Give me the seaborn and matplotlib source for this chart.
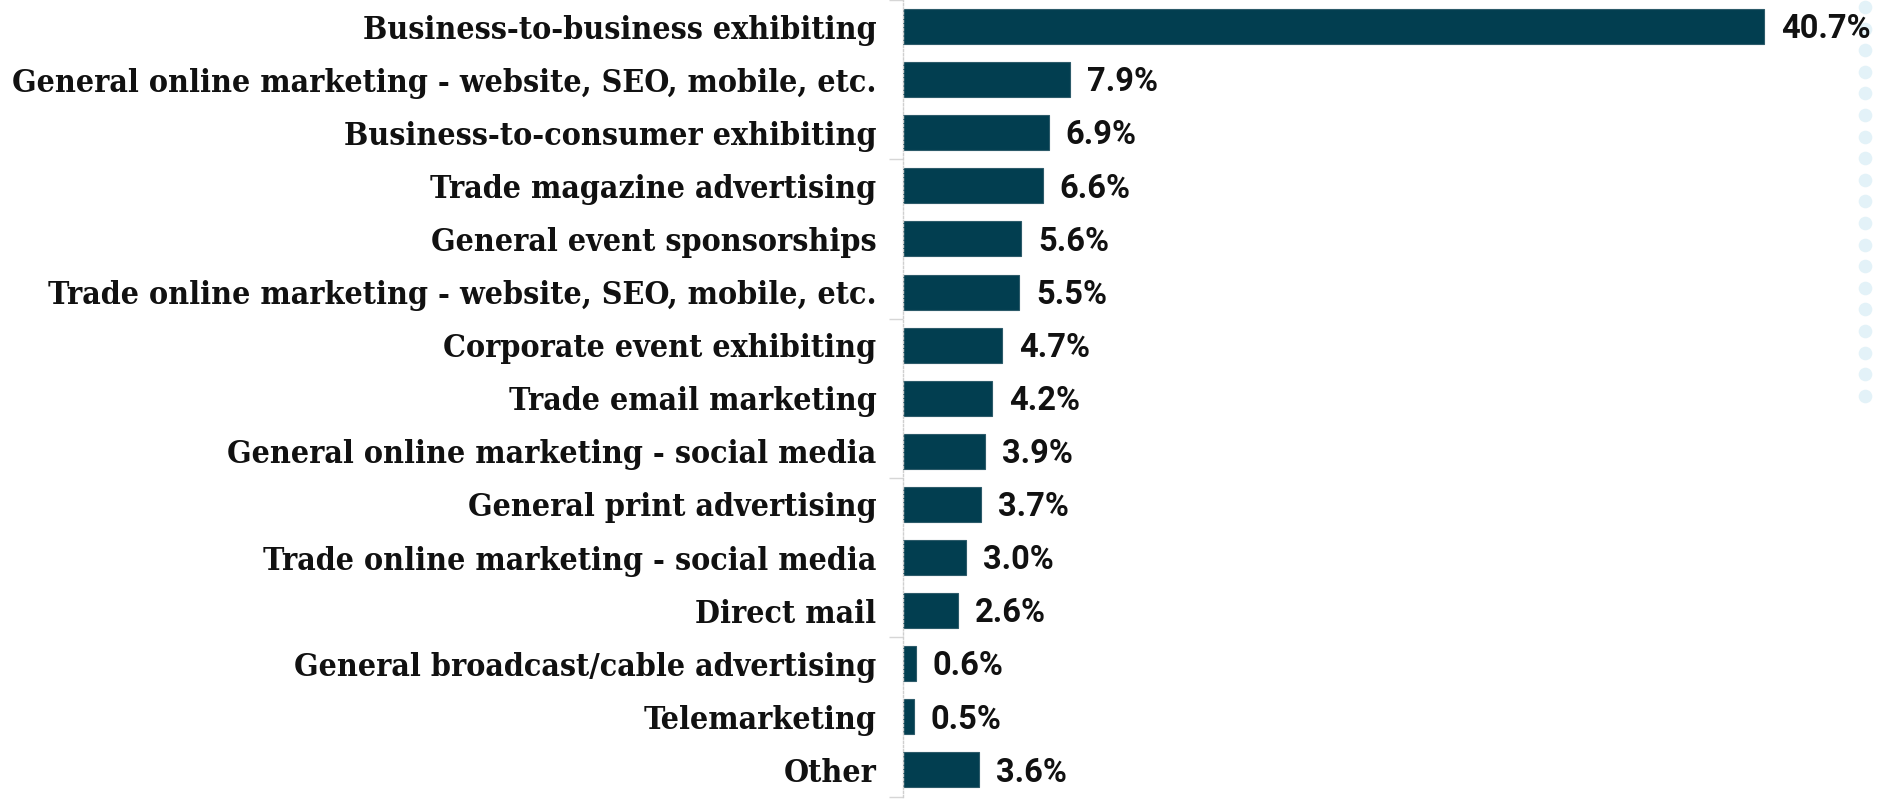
import matplotlib
matplotlib.use("Agg")
import matplotlib.pyplot as plt
import seaborn as sns
import pandas as pd
import numpy as np

# Share of budget by marketing channel
categories = [
    "Business-to-business exhibiting",
    "General online marketing - website, SEO, mobile, etc.",
    "Business-to-consumer exhibiting",
    "Trade magazine advertising",
    "General event sponsorships",
    "Trade online marketing - website, SEO, mobile, etc.",
    "Corporate event exhibiting",
    "Trade email marketing",
    "General online marketing - social media",
    "General print advertising",
    "Trade online marketing - social media",
    "Direct mail",
    "General broadcast/cable advertising",
    "Telemarketing",
    "Other",
]
shares = [40.7, 7.9, 6.9, 6.6, 5.6, 5.5, 4.7, 4.2, 3.9, 3.7, 3.0, 2.6, 0.6, 0.5, 3.6]

df = pd.DataFrame({"channel": categories, "share": shares})

sns.set_theme(style="white")
plt.rcParams["font.family"] = ["DejaVu Sans"]

W, H, DPI = 1883, 800, 100
fig = plt.figure(figsize=(W / DPI, H / DPI), dpi=DPI)
fig.patch.set_facecolor("white")

ax_left = 903 / W
ax_bottom = 3.5 / H
ax = fig.add_axes([ax_left, ax_bottom, 1 - ax_left, 1 - ax_bottom])
ax.patch.set_alpha(0)

bar_color = "#023e50"
sns.barplot(data=df, x="share", y="channel", orient="h", color=bar_color,
            saturation=1, width=0.66, edgecolor="#2d5b6a", linewidth=0.8, ax=ax)

ax.set_xlim(0, (W - 903) / 21.15)
ax.set_ylim(len(categories) - 0.5, -0.5)
ax.set_xlabel("")
ax.set_ylabel("")
ax.set_xticks([])

for s in ["top", "right", "bottom"]:
    ax.spines[s].set_visible(False)
ax.spines["left"].set_color("#cfcfcf")
ax.spines["left"].set_linewidth(1.0)
ax.spines["left"].set_linestyle((0, (1.5, 1.5)))

ax.set_yticks(range(len(categories)))
ax.set_yticklabels(categories, fontfamily="DejaVu Serif", fontweight="bold",
                   fontstretch="condensed", fontsize=23.0, color="#111111")
ax.tick_params(axis="y", which="major", left=True, length=0, pad=19)
ax.set_yticks(np.arange(-0.5, len(categories), 3), minor=True)
ax.tick_params(axis="y", which="minor", left=True, length=10, width=1,
               color="#d6d6d6")

for i, v in enumerate(shares):
    ax.text(v + 0.8, i + 0.05, f"{v:.1f}%", va="center", ha="left",
            fontfamily="Roboto", fontweight="bold", fontsize=23.5, color="#111111")

# decorative dotted column on the right edge
deco = fig.add_axes([0, 0, 1, 1], zorder=-1)
deco.set_xlim(0, W)
deco.set_ylim(H, 0)
deco.axis("off")
deco.plot(np.full(19, 1865.0), 7 + 21.6 * np.arange(19), "o", ms=9.8,
          color="#e3f2f8", mec="none")

fig.savefig("out.png", dpi=DPI, facecolor="white")
